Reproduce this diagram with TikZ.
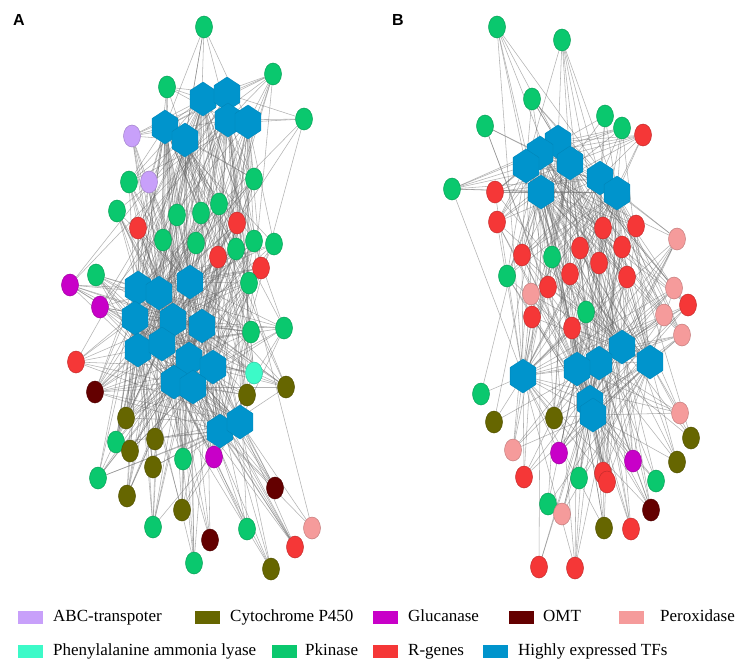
\documentclass[tikz,border=0pt]{standalone}
\usepackage{fontspec}
\setmainfont{Liberation Serif}
\setsansfont{Liberation Sans}
\usetikzlibrary{shapes.geometric,backgrounds}

\begin{document}
\begin{tikzpicture}[x=1pt, y=-1pt,
	gene/.style={ellipse, minimum width=17pt, minimum height=22pt, inner sep=0pt, fill=#1, draw=#1!80!black, line width=.5pt},
	tf/.style={regular polygon, regular polygon sides=6, shape border rotate=90, minimum size=34pt, xscale=.88, inner sep=0pt, fill=tfs, draw=tfs!90!black, line width=.4pt},
	link/.style={draw=black!60, line width=.55pt, opacity=.5},
	keybox/.style={minimum width=25pt, minimum height=13pt, inner sep=0pt, fill=#1},
	keytext/.style={anchor=west, inner sep=0pt, text height=11.5pt, text depth=3.5pt, font=\fontsize{17}{20}\selectfont},
	panel/.style={font=\sffamily\bfseries\fontsize{16}{19}\selectfont}]
	\definecolor{abc}{RGB}{200, 160, 250}
	\definecolor{cyp}{RGB}{102, 102, 0}
	\definecolor{glu}{RGB}{200, 0, 200}
	\definecolor{omt}{RGB}{100, 0, 0}
	\definecolor{pox}{RGB}{245, 155, 155}
	\definecolor{pal}{RGB}{60, 250, 200}
	\definecolor{pki}{RGB}{10, 200, 110}
	\definecolor{rgn}{RGB}{245, 55, 55}
	\definecolor{tfs}{RGB}{0, 148, 204}

	\useasboundingbox (0,0) rectangle (743,670);

	% x/y of TFs and x/y/colour of genes, panel A
	\def\tfsA{203/99, 227/94, 228/120, 248/122, 165/127, 185/140, 138/288, 159/293, 190/282, 135/318,
		173/320, 202/326, 138/350, 162/344, 189/359, 213/367, 174/382, 193/387, 220/431, 240/422}
	\def\genesA{204/27/pki, 273/74/pki, 167/87/pki, 304/119/pki, 132/136/abc, 254/179/pki, 129/182/pki,
		149/182/abc, 117/211/pki, 219/204/pki, 177/215/pki, 201/213/pki, 237/223/rgn, 138/228/rgn,
		163/240/pki, 196/243/pki, 254/241/pki, 236/249/pki, 274/244/pki, 218/257/rgn, 261/268/rgn,
		249/283/pki, 96/275/pki, 70/285/glu, 100/307/glu, 251/332/pki, 284/328/pki, 76/362/rgn,
		254/373/pal, 286/387/cyp, 95/392/omt, 247/395/cyp, 126/418/cyp, 116/442/pki, 130/451/cyp,
		155/439/cyp, 153/467/cyp, 183/459/pki, 214/457/glu, 98/478/pki, 127/496/cyp, 275/488/omt,
		182/510/cyp, 153/527/pki, 247/529/pki, 210/540/omt, 312/528/pox, 295/547/rgn, 194/563/pki,
		271/569/cyp}

	% x/y of TFs and x/y/colour of genes, panel B
	\def\tfsB{558/142, 540/153, 526/166, 570/163, 541/192, 600/178, 617/193, 622/347, 650/362,
		599/363, 577/369, 523/376, 590/402, 593/415}
	\def\genesB{497/27/pki, 562/40/pki, 532/99/pki, 485/126/pki, 605/116/pki, 622/128/pki, 643/135/rgn,
		452/189/pki, 495/192/rgn, 497/222/rgn, 603/228/rgn, 636/226/rgn, 677/239/pox, 580/248/rgn,
		622/247/rgn, 522/255/rgn, 552/257/pki, 599/263/rgn, 570/274/rgn, 627/277/rgn, 507/276/pki,
		674/288/pox, 548/287/rgn, 531/294/pox, 688/305/rgn, 532/317/rgn, 586/312/pki, 572/328/rgn,
		664/315/pox, 682/335/pox, 481/394/pki, 494/422/cyp, 554/418/cyp, 680/413/pox, 691/438/cyp,
		513/450/pox, 559/453/glu, 633/461/glu, 677/462/cyp, 524/477/rgn, 579/478/pki, 603/473/rgn,
		607/482/rgn, 656/481/pki, 548/504/pki, 562/514/pox, 651/510/omt, 604/528/cyp, 631/529/rgn,
		539/567/rgn, 575/568/rgn}

	% \drawlinks#tflist#genelist#panel -- more links between close nodes
	\def\drawlinks#1#2#3{
		\foreach \hx/\hy [count=\j] in #1 {
			\foreach \gx/\gy/\col [count=\i] in #2 {
				\pgfmathtruncatemacro\keep{rnd < exp(-veclen((\hx-\gx)/220,(\hy-\gy)/220))}
				\ifnum\keep=1 \draw[link] (t#3\j) -- (g#3\i); \fi
			}
			\foreach \kx/\ky [count=\k] in #1 {
				\ifnum\k>\j
					\pgfmathtruncatemacro\keep{rnd < .9*exp(-veclen((\hx-\kx)/250,(\hy-\ky)/250))}
					\ifnum\keep=1 \draw[link] (t#3\j) -- (t#3\k); \fi
				\fi
			}
		}
	}

	% nodes
	\foreach \gx/\gy/\col [count=\i] in \genesA
		\node[gene=\col] (ga\i) at (\gx,\gy) {};
	\foreach \hx/\hy [count=\j] in \tfsA
		\node[tf] (ta\j) at (\hx,\hy) {};
	\foreach \gx/\gy/\col [count=\i] in \genesB
		\node[gene=\col] (gb\i) at (\gx,\gy) {};
	\foreach \hx/\hy [count=\j] in \tfsB
		\node[tf] (tb\j) at (\hx,\hy) {};

	% links
	\pgfmathsetseed{17}
	\begin{pgfonlayer}{background}
		\drawlinks{\tfsA}{\genesA}{a}
		\drawlinks{\tfsB}{\genesB}{b}
	\end{pgfonlayer}

	% panel letters
	\node[panel] (labA) at (19,20) {A};
	\node[panel] (labB) at (398,20) {B};

	% legend
	\foreach \bx/\by/\tx/\col/\txt [count=\i] in {30.5/617/53/abc/ABC-transpoter, 207.5/617/230/cyp/Cytochrome P450,
		385.5/617/408/glu/Glucanase, 521/617/543/omt/OMT, 631/617/660/pox/Peroxidase,
		30.5/651/53/pal/Phenylalanine ammonia lyase, 284.5/651/305/pki/Pkinase, 385.5/651/408/rgn/R-genes,
		495.5/651/518/tfs/Highly expressed TFs} {
		\node[keybox=\col] (key\i) at (\bx,\by) {};
		\node[keytext] (keytxt\i) at (\tx,\by) {\txt};
	}
\end{tikzpicture}
\end{document}
